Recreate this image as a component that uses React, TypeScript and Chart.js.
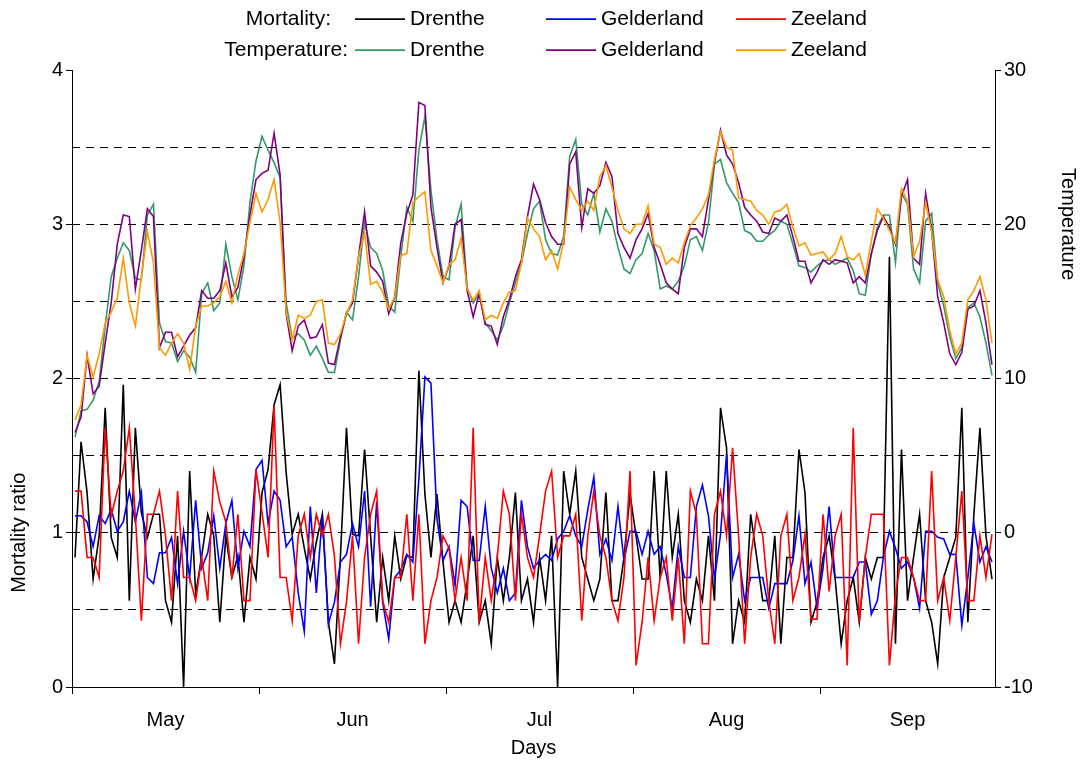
import React, { useEffect, useRef } from "react";
import { Chart, registerables } from "chart.js";

Chart.register(...registerables);

// ---------- categories ----------
const monthNames = ["May", "Jun", "Jul", "Aug", "Sep"];
const monthLengths = [31, 30, 31, 31, 30];
const days: string[] = [];
monthNames.forEach((m, k) => {
  for (let d = 1; d <= monthLengths[k]; d++) days.push(`${d} ${m}`);
});
const monthTickIndex = [0, 31, 62, 93, 124];
const monthLabelIndex = [15, 46, 77, 108, 138];

const seriesNames = ["Drenthe", "Gelderland", "Zeeland"];
const groupNames = ["Mortality:", "Temperature:"];
const xTitle = "Days";
const leftTitle = "Mortality ratio";
const rightTitle = "Temperature";

// ---------- mortality ratio (left axis) ----------
const drentheMort = [
  0.84, 1.59, 1.26, 0.7, 0.98, 1.81, 0.97, 0.84, 1.96, 0.56,
  1.68, 1.13, 0.97, 1.12, 1.12, 0.56, 0.42, 0.98, 0.0, 1.4,
  0.6, 0.85, 1.12, 0.98, 0.42, 0.98, 0.71, 0.85, 0.42, 0.84,
  0.7, 1.26, 1.41, 1.83, 1.96, 1.39, 0.99, 1.12, 0.9, 0.7,
  0.94, 1.12, 0.42, 0.15, 0.85, 1.68, 0.99, 0.98, 1.54, 0.98,
  0.42, 0.84, 0.56, 0.98, 0.7, 0.85, 0.84, 2.05, 1.25, 0.84,
  1.25, 0.81, 0.42, 0.56, 0.42, 0.68, 0.98, 0.42, 0.56, 0.28,
  0.84, 0.56, 0.84, 1.26, 0.56, 0.7, 0.42, 0.84, 0.56, 0.98,
  0.0, 1.4, 1.12, 1.4, 0.84, 0.7, 0.56, 0.7, 1.26, 0.56,
  0.56, 0.84, 1.25, 0.98, 0.7, 0.7, 1.4, 0.7, 1.4, 0.84,
  1.12, 0.56, 0.42, 0.7, 0.56, 0.98, 0.56, 1.81, 1.55, 0.28,
  0.56, 0.42, 1.12, 0.84, 0.56, 0.56, 0.98, 0.28, 0.84, 0.84,
  1.54, 1.26, 0.42, 0.55, 0.84, 0.98, 0.7, 0.28, 0.56, 0.71,
  0.42, 0.84, 0.7, 0.84, 0.84, 2.79, 0.28, 1.54, 0.56, 0.84,
  1.12, 0.56, 0.42, 0.15, 0.71, 0.84, 0.97, 1.81, 0.42, 1.12,
  1.68, 0.98, 0.7,
];
const gelderlandMort = [
  1.11, 1.11, 1.07, 0.91, 1.11, 1.06, 1.15, 1.01, 1.07, 1.27,
  1.07, 1.26, 0.71, 0.67, 0.87, 0.87, 0.97, 0.67, 1.01, 0.71,
  1.21, 0.77, 0.87, 1.11, 0.77, 1.06, 1.21, 0.77, 1.01, 0.91,
  1.41, 1.47, 1.06, 1.27, 1.21, 0.91, 0.97, 0.61, 0.36, 1.17,
  0.61, 1.11, 0.41, 0.55, 0.81, 0.86, 1.06, 0.91, 1.27, 0.52,
  1.2, 0.55, 0.31, 0.71, 0.76, 0.86, 0.81, 1.35, 2.01, 1.97,
  1.09, 0.82, 0.91, 0.66, 1.21, 1.17, 0.82, 0.82, 1.17, 0.77,
  0.61, 0.77, 0.56, 0.61, 1.21, 0.91, 0.77, 0.82, 0.86, 0.82,
  0.96, 1.01, 1.11, 0.98, 0.91, 1.15, 1.36, 0.86, 0.96, 0.82,
  1.17, 0.82, 1.01, 1.01, 0.86, 1.01, 0.86, 0.91, 0.73, 0.51,
  0.91, 0.71, 0.71, 1.17, 1.31, 1.11, 0.7, 0.99, 1.51, 0.71,
  0.86, 0.56, 0.71, 0.71, 0.71, 0.51, 0.67, 0.67, 0.67, 0.82,
  1.11, 0.67, 0.81, 0.51, 0.77, 1.17, 0.71, 0.71, 0.71, 0.71,
  0.81, 0.81, 0.47, 0.56, 0.84, 1.01, 0.9, 0.77, 0.81, 0.71,
  0.51, 1.01, 1.01, 0.97, 0.96, 0.86, 0.86, 0.4, 0.71, 1.06,
  0.81, 0.91, 0.81,
];
const zeelandMort = [
  1.27, 1.27, 0.84, 0.84, 0.71, 1.68, 1.11, 1.27, 1.4, 1.68,
  1.11, 0.43, 1.12, 1.12, 1.27, 0.98, 0.56, 1.27, 0.71, 0.71,
  0.56, 0.84, 0.56, 1.4, 1.2, 1.07, 0.7, 1.12, 0.56, 0.56,
  1.41, 1.13, 0.84, 1.82, 0.71, 0.71, 0.43, 0.98, 1.12, 0.84,
  1.12, 0.98, 1.12, 0.85, 0.28, 0.55, 0.98, 0.28, 0.84, 1.12,
  1.27, 0.56, 0.42, 0.71, 0.71, 1.12, 0.56, 1.12, 0.28, 0.56,
  0.71, 0.98, 0.9, 0.56, 0.84, 0.56, 1.68, 0.42, 0.84, 0.56,
  0.84, 1.27, 1.12, 0.56, 1.12, 0.84, 0.71, 0.98, 1.27, 1.4,
  0.84, 0.98, 0.98, 1.12, 0.43, 0.98, 1.27, 0.98, 0.84, 0.56,
  0.43, 0.71, 1.4, 0.14, 0.42, 0.84, 0.43, 0.71, 0.84, 0.43,
  0.84, 0.28, 1.27, 1.12, 0.28, 0.28, 1.12, 1.27, 0.98, 1.55,
  0.98, 0.28, 0.84, 1.12, 0.98, 0.56, 0.28, 0.98, 1.12, 0.56,
  0.71, 0.99, 0.44, 0.44, 1.12, 0.62, 0.98, 1.12, 0.14, 1.68,
  0.42, 0.84, 1.12, 1.12, 1.12, 0.14, 0.6, 0.84, 0.84, 0.71,
  0.56, 0.56, 1.4, 0.56, 0.71, 0.43, 0.84, 1.27, 0.56, 0.56,
  0.98, 0.71, 0.99,
];

// ---------- temperature (right axis, °C) ----------
const drentheTemp = [
  6.2, 7.9, 8.0, 8.6, 9.8, 13.4, 16.6, 17.8, 18.8, 18.3,
  16.5, 16.4, 20.6, 21.3, 13.6, 12.4, 12.3, 11.1, 11.8, 11.4,
  10.4, 15.5, 16.2, 14.4, 14.9, 18.7, 16.6, 15.1, 17.3, 21.4,
  24.1, 25.7, 24.8, 24.0, 23.0, 14.9, 12.6, 12.9, 12.5, 11.5,
  12.1, 11.3, 10.4, 10.4, 12.5, 14.3, 13.8, 16.6, 20.1, 18.5,
  18.1, 17.0, 14.7, 14.3, 17.9, 21.1, 20.2, 24.8, 27.0, 22.2,
  19.0, 16.6, 16.4, 19.8, 21.3, 15.9, 14.9, 15.5, 13.6, 13.1,
  12.5, 13.4, 14.9, 16.2, 17.5, 19.4, 21.0, 21.5, 19.0, 18.1,
  18.0, 19.2, 24.4, 25.5, 21.3, 20.6, 22.0, 19.5, 21.0, 20.2,
  18.5, 17.1, 16.8, 17.7, 18.1, 19.4, 18.3, 15.8, 16.0, 15.8,
  16.3, 17.3, 19.0, 19.2, 18.3, 20.1, 23.9, 24.2, 22.7, 22.0,
  21.4, 19.6, 19.4, 18.9, 18.9, 19.3, 19.6, 20.2, 20.0, 18.7,
  17.3, 17.2, 16.9, 17.3, 17.6, 17.7, 17.4, 17.6, 17.8, 17.0,
  15.5, 15.4, 18.1, 19.8, 20.6, 20.6, 17.5, 22.0, 21.3, 17.1,
  16.2, 20.2, 20.7, 16.2, 14.7, 12.7, 11.3, 12.0, 14.6, 14.9,
  14.0, 12.3, 10.2,
];
const gelderlandTemp = [
  6.5, 7.5, 11.5, 9.0, 9.5, 12.3, 14.9, 18.7, 20.6, 20.5,
  15.8, 18.3, 21.0, 20.5, 12.0, 13.0, 13.0, 11.4, 12.1, 12.8,
  13.3, 15.7, 15.2, 15.2, 15.7, 17.5, 15.3, 15.9, 17.9, 20.6,
  22.9, 23.3, 23.5, 25.9, 23.2, 14.2, 11.8, 13.4, 13.8, 12.6,
  12.7, 13.5, 11.0, 10.9, 12.7, 14.2, 14.9, 17.9, 20.8, 17.3,
  16.9, 16.3, 14.2, 15.3, 18.8, 20.7, 21.9, 27.9, 27.7, 21.1,
  18.5, 16.2, 17.3, 20.0, 20.3, 15.7, 14.0, 15.5, 13.5, 13.4,
  12.2, 14.0, 15.1, 16.6, 17.7, 20.5, 22.6, 21.6, 20.1, 19.2,
  18.7, 18.7, 23.9, 24.7, 19.8, 22.3, 22.0, 22.5, 24.0, 23.1,
  19.4, 18.5, 17.8, 19.0, 19.7, 20.7, 18.5, 17.4, 16.2, 15.8,
  15.5, 18.5, 19.7, 19.7, 19.2, 21.6, 24.0, 26.1, 24.5, 23.9,
  22.7, 21.1, 20.6, 20.2, 19.5, 19.4, 20.4, 20.2, 20.6, 19.2,
  17.6, 17.6, 16.2, 16.9, 17.7, 17.4, 17.7, 17.6, 17.5, 16.2,
  16.6, 16.2, 18.1, 19.6, 20.5, 19.8, 18.7, 21.8, 22.9, 17.8,
  17.4, 22.0, 19.6, 15.3, 13.6, 11.6, 10.9, 11.7, 14.5, 14.7,
  15.7, 13.6, 10.9,
];
const zeelandTemp = [
  7.3, 8.3, 11.5, 10.1, 11.6, 13.6, 14.3, 15.2, 17.8, 14.9,
  13.4, 16.6, 19.5, 17.5, 12.0, 11.5, 12.3, 12.9, 12.3, 10.6,
  13.4, 14.7, 14.7, 14.9, 15.3, 16.3, 14.9, 16.7, 18.1, 20.1,
  22.0, 20.8, 21.6, 22.9, 20.1, 14.3, 12.5, 14.1, 13.9, 14.1,
  15.0, 15.1, 12.3, 12.2, 12.9, 14.2, 15.1, 17.9, 19.4, 16.1,
  16.3, 15.6, 14.5, 15.3, 18.0, 18.1, 21.4, 21.8, 22.1, 18.3,
  17.3, 16.2, 17.4, 17.7, 19.1, 15.8, 15.1, 15.7, 13.8, 14.1,
  13.9, 14.9, 15.6, 15.7, 17.5, 20.4, 19.7, 19.2, 17.7, 18.3,
  17.1, 18.9, 22.4, 21.6, 20.9, 21.5, 20.9, 23.1, 23.8, 22.4,
  20.9, 19.7, 19.4, 20.0, 20.0, 21.2, 18.7, 18.5, 17.4, 17.8,
  17.5, 18.8, 19.9, 20.4, 21.0, 21.9, 24.2, 26.0, 25.0, 24.8,
  21.7, 21.6, 21.5, 20.9, 20.6, 20.0, 20.8, 20.9, 21.3, 19.8,
  18.6, 18.8, 18.0, 18.1, 18.2, 17.7, 18.1, 19.2, 17.9, 17.7,
  18.1, 16.7, 18.9, 21.0, 20.4, 19.6, 18.8, 22.3, 21.5, 17.9,
  18.9, 21.4, 19.5, 16.4, 15.3, 13.1, 11.6, 12.3, 15.1, 15.7,
  16.6, 15.1, 12.3,
];

// ---------- axes ----------
const mortMin = 0;
const mortMax = 4;
const mortStep = 1;
const tempMin = -10;
const tempMax = 30;
const tempGridStep = 5;
const tempLabelStep = 10;

const mortColors = ["#000000", "#0000FF", "#FF0000"];
const tempColors = ["#339966", "#800080", "#FF9900"];

const FONT = "'Liberation Sans', Arial, Helvetica, sans-serif";

const overlayPlugin = {
  id: "overlay",
  afterDraw(chart: any) {
    const { ctx, chartArea } = chart;
    const yM = chart.scales.y;
    const yT = chart.scales.yT;
    ctx.save();
    ctx.fillStyle = "#000";
    ctx.font = `20px ${FONT}`;
    ctx.textBaseline = "middle";
    ctx.textAlign = "center";
    ctx.fillText(xTitle, (chartArea.left + chartArea.right) / 2, 748);

    ctx.save();
    ctx.translate(19, yM.getPixelForValue(1));
    ctx.rotate(-Math.PI / 2);
    ctx.fillText(leftTitle, 0, 0);
    ctx.restore();

    ctx.save();
    ctx.translate(1068, yT.getPixelForValue(20));
    ctx.rotate(Math.PI / 2);
    ctx.fillText(rightTitle, 0, 0);
    ctx.restore();

    // legend
    ctx.font = `21px ${FONT}`;
    const rowsY = [19, 50];
    const groupRight = [331, 348];
    const sampleX = [355, 546, 736];
    const sampleW = 50;
    const groups = [mortColors, tempColors];
    groups.forEach((colors, r) => {
      ctx.fillStyle = "#000";
      ctx.textAlign = "right";
      ctx.fillText(groupNames[r], groupRight[r], rowsY[r]);
      ctx.textAlign = "left";
      colors.forEach((c, k) => {
        ctx.strokeStyle = c;
        ctx.lineWidth = 1.75;
        ctx.beginPath();
        ctx.moveTo(sampleX[k], rowsY[r]);
        ctx.lineTo(sampleX[k] + sampleW, rowsY[r]);
        ctx.stroke();
        ctx.fillStyle = "#000";
        ctx.fillText(seriesNames[k], sampleX[k] + sampleW + 5, rowsY[r]);
      });
    });
    ctx.restore();
  },
};

export default function App() {
  const canvasRef = useRef<HTMLCanvasElement | null>(null);

  useEffect(() => {
    const canvas = canvasRef.current;
    if (!canvas) return;
    Chart.defaults.font.family = FONT;
    const tempSeries = [drentheTemp, gelderlandTemp, zeelandTemp];
    const mortSeries = [drentheMort, gelderlandMort, zeelandMort];
    const datasets: any[] = [];
    tempSeries.forEach((d, k) =>
      datasets.push({
        label: `Temperature ${seriesNames[k]}`,
        data: d,
        yAxisID: "yT",
        borderColor: tempColors[k],
        backgroundColor: tempColors[k],
        order: 3 - k,
      })
    );
    mortSeries.forEach((d, k) =>
      datasets.push({
        label: `Mortality ${seriesNames[k]}`,
        data: d,
        yAxisID: "y",
        borderColor: mortColors[k],
        backgroundColor: mortColors[k],
        order: 6 - k,
      })
    );

    const chart = new Chart(canvas, {
      type: "line",
      data: { labels: days, datasets },
      options: {
        animation: false,
        responsive: true,
        maintainAspectRatio: false,
        layout: { padding: { top: 70, left: 0, right: 0, bottom: 0 } },
        elements: {
          point: { radius: 0, hoverRadius: 0 },
          line: { borderWidth: 1.6, tension: 0 },
        },
        plugins: { legend: { display: false }, tooltip: { enabled: false } },
        scales: {
          x: {
            type: "category",
            offset: true,
            grid: {
              offset: true,
              drawOnChartArea: false,
              tickLength: 7,
              tickWidth: 1,
              tickColor: (c: any) =>
                monthTickIndex.includes(c.index) ? "#000" : "rgba(0,0,0,0)",
            },
            border: { display: true, color: "#000", width: 1 },
            ticks: {
              autoSkip: false,
              maxRotation: 0,
              minRotation: 0,
              color: "#000",
              font: { size: 20 },
              padding: 14,
              callback: (_v: any, i: number) => {
                const k = monthLabelIndex.indexOf(i);
                return k >= 0 ? monthNames[k] : "";
              },
            },
            afterFit: (s: any) => {
              s.height = 75;
            },
          },
          y: {
            position: "left",
            min: mortMin,
            max: mortMax,
            ticks: {
              stepSize: mortStep,
              color: "#000",
              font: { size: 20 },
              padding: 3,
            },
            grid: {
              drawOnChartArea: false,
              tickLength: 6,
              tickColor: "#000",
            },
            border: { display: true, color: "#000", width: 1 },
            afterFit: (s: any) => {
              s.width = 72;
            },
          },
          yT: {
            position: "right",
            min: tempMin,
            max: tempMax,
            ticks: {
              stepSize: tempGridStep,
              color: "#000",
              font: { size: 20 },
              padding: 3,
              callback: (v: any) => (Number(v) % tempLabelStep === 0 ? String(v) : ""),
            },
            grid: {
              drawOnChartArea: true,
              lineWidth: 1,
              tickLength: 6,
              tickColor: (c: any) =>
                c.tick && Number(c.tick.value) % tempLabelStep === 0 ? "#000" : "rgba(0,0,0,0)",
              color: (c: any) =>
                c.tick && (c.tick.value === tempMax || c.tick.value === tempMin)
                  ? "rgba(0,0,0,0)"
                  : "#000",
            },
            border: { display: true, color: "#000", width: 1, dash: [8, 6] },
            afterFit: (s: any) => {
              s.width = 88;
            },
          },
        },
      },
      plugins: [overlayPlugin],
    });
    return () => chart.destroy();
  }, []);

  return (
    <div style={{ position: "fixed", left: 0, top: 0, width: 1083, height: 762, background: "#fff" }}>
      <canvas ref={canvasRef} />
    </div>
  );
}
